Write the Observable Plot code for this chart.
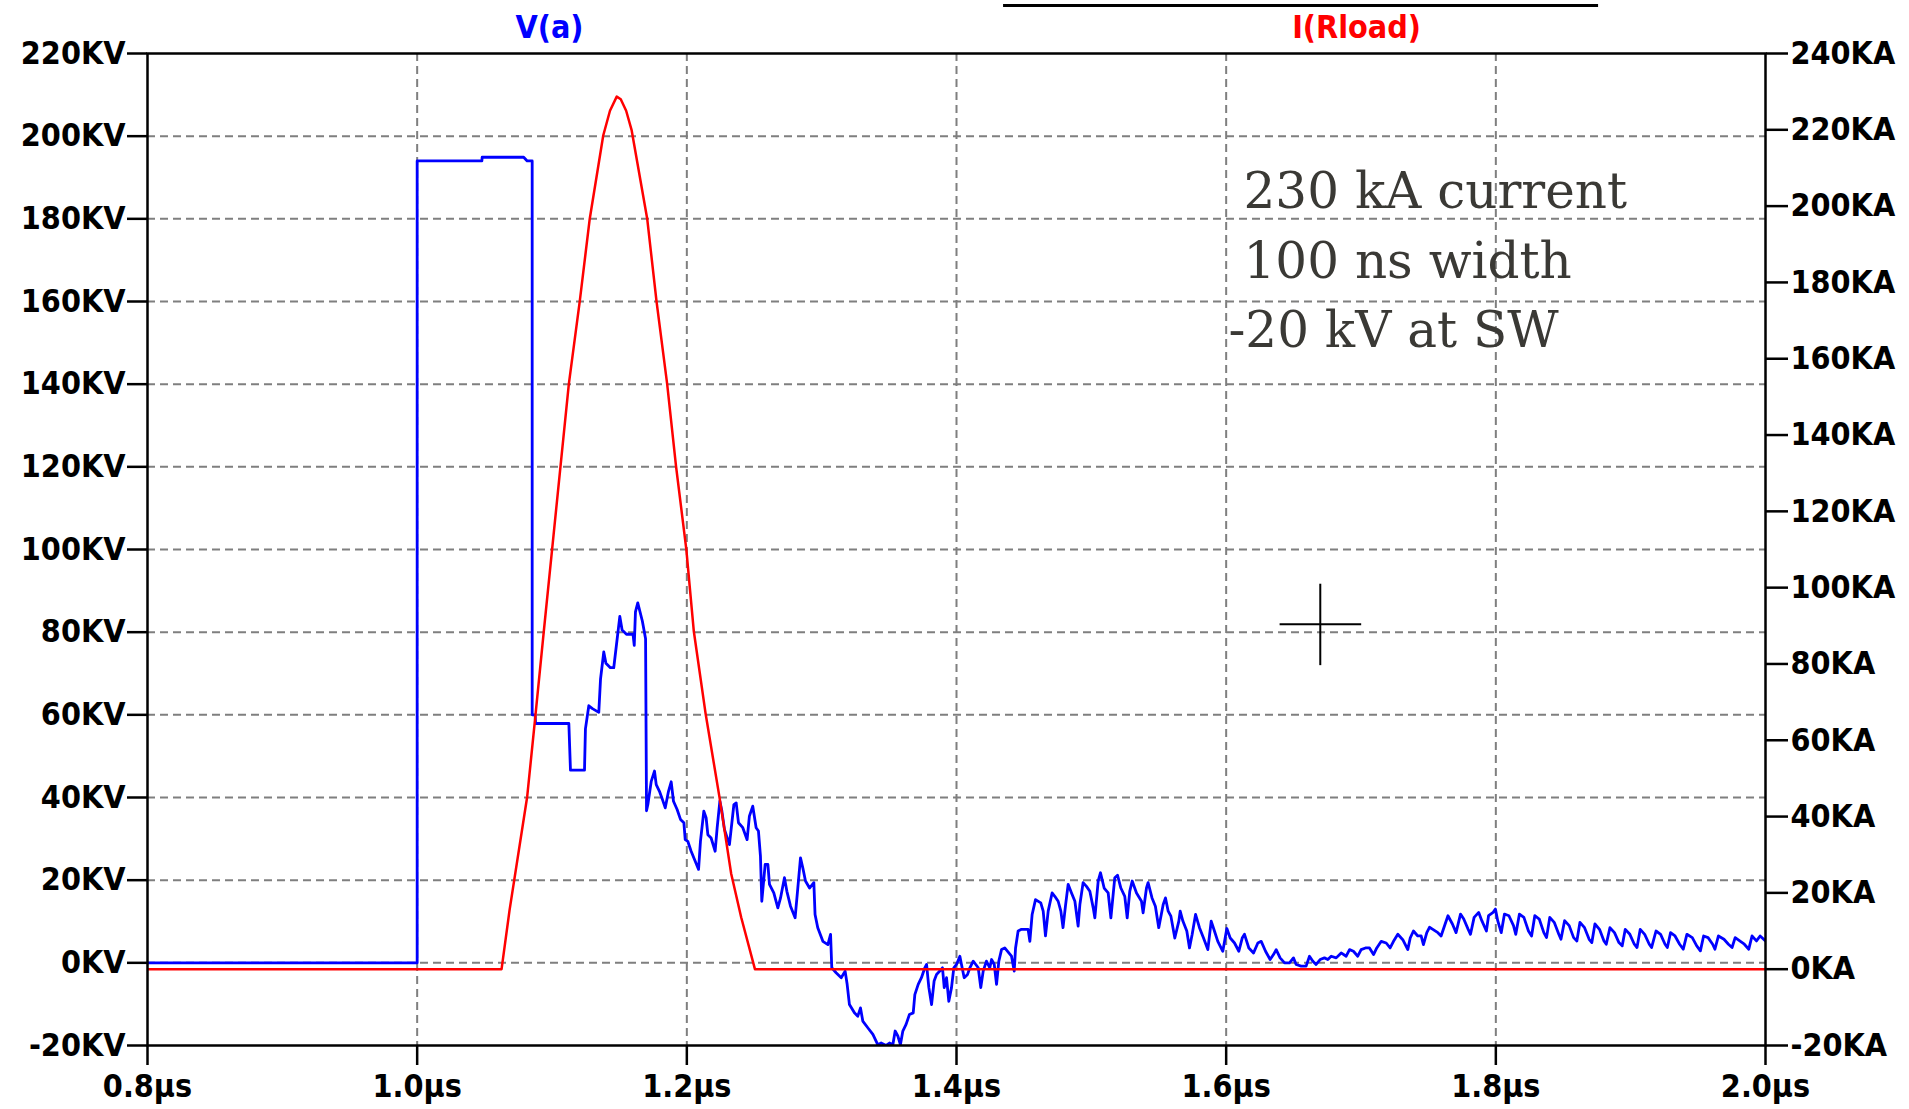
<!DOCTYPE html>
<html>
<head>
<meta charset="utf-8">
<script src="https://cdn.jsdelivr.net/npm/d3@7"></script>
<script src="https://cdn.jsdelivr.net/npm/@observablehq/plot@0.6"></script>
<style>
html, body { margin: 0; padding: 0; background: #fff; overflow: hidden; }
#chart svg { display: block; }
#chart svg g[font-family="DejaVu Serif"], #chart svg g[font-family="DejaVu Serif"] text { font-stretch: normal; font-weight: normal; }
</style>
</head>
<body>
<div id="chart"></div>
<script>
// ---- axes / ticks ----
const timeDomain = [0.8, 2.0];
const timeTicks = [0.8, 1.0, 1.2, 1.4, 1.6, 1.8, 2.0];
const voltDomain = [-20, 220];
const voltTicks = [-20, 0, 20, 40, 60, 80, 100, 120, 140, 160, 180, 200, 220];
const currentDomain = [-20, 240];
const currentTicks = [-20, 0, 20, 40, 60, 80, 100, 120, 140, 160, 180, 200, 220, 240];

// ---- series names ----
const seriesNames = ["V(a)", "I(Rload)"];
const seriesLabelX = [1.0981, 1.6967];
const overlineX = [1.4349, 1.8762];

// ---- V(a) in kV vs time in µs ----
const vaPulse = [
  [0.8, 0], [1.0, 0], [1.0, 194.0], [1.048, 194.0], [1.0482, 194.9], [1.079, 194.9],
  [1.0816, 194.0], [1.0853, 194.0], [1.0853, 60.0], [1.0875, 60.0], [1.0878, 57.9],
  [1.1125, 57.9], [1.1137, 46.6], [1.1241, 46.6], [1.1248, 56.6], [1.1273, 62.2],
  [1.130, 61.5], [1.1347, 60.6], [1.136, 68.7], [1.1384, 75.2], [1.140, 72.5],
  [1.1433, 71.4], [1.1458, 71.4], [1.1503, 83.8], [1.152, 80.5], [1.1552, 79.5],
  [1.1601, 79.5], [1.161, 76.8], [1.1619, 84.9], [1.1636, 87.1], [1.167, 82.7],
  [1.1694, 78.4], [1.1701, 36.8]
];
const vaDecay = [
  [1.1711, 38.3], [1.1736, 43.9], [1.176, 46.4], [1.1773, 43.1], [1.1797, 41.5],
  [1.1815, 39.9], [1.184, 37.5], [1.1864, 41.5], [1.1884, 43.8], [1.1901, 39.1],
  [1.1928, 37.1], [1.1953, 34.7], [1.1978, 33.9], [1.1988, 29.8], [1.2007, 29.4],
  [1.2032, 27.0], [1.2057, 25.0], [1.2087, 22.6], [1.2101, 29.4], [1.2126, 36.7],
  [1.2143, 35.1], [1.2156, 31.0], [1.218, 30.2], [1.221, 27.0], [1.2225, 32.7],
  [1.2245, 39.1], [1.226, 36.7], [1.2279, 32.3], [1.2316, 28.6], [1.2349, 38.3],
  [1.2366, 38.7], [1.2383, 33.9], [1.2415, 32.7], [1.2447, 29.8], [1.2464, 35.5],
  [1.2489, 37.9], [1.2514, 32.7], [1.2531, 31.9], [1.2546, 25.8], [1.2556, 14.9],
  [1.2581, 23.8], [1.2601, 23.8], [1.2613, 19.0], [1.2645, 16.9], [1.2675, 13.3],
  [1.2695, 15.7], [1.2724, 20.6], [1.2742, 17.3], [1.2769, 13.7], [1.2803, 10.9],
  [1.2823, 18.1], [1.2843, 25.4], [1.286, 23.0], [1.288, 19.8], [1.291, 18.1],
  [1.2942, 19.4], [1.2951, 11.7], [1.2971, 8.5], [1.3009, 5.2], [1.3046, 4.4],
  [1.3066, 6.9], [1.3075, -1.2], [1.3107, -2.4], [1.3145, -3.6], [1.3174, -2.0],
  [1.3189, -5.2], [1.3206, -10.1], [1.3243, -12.1], [1.3268, -12.9], [1.3288, -10.9],
  [1.3305, -14.1], [1.3342, -15.7], [1.338, -17.3], [1.3416, -19.8], [1.3441, -19.4],
  [1.3478, -20.0], [1.3503, -19.4], [1.3528, -19.8], [1.3545, -16.5], [1.3565, -17.7],
  [1.3584, -19.8], [1.3602, -16.5], [1.3626, -14.9], [1.3651, -12.5]
];
const vaRingUp = [
  [1.3679, -12.1], [1.3691, -7.7], [1.3716, -5.2], [1.374, -3.6], [1.3765, -1.2],
  [1.3778, -0.4], [1.3795, -6.0], [1.3815, -10.1], [1.3834, -4.4], [1.3852, -2.8],
  [1.3876, -2.0], [1.3896, -1.2], [1.3909, -6.0], [1.3926, -3.6], [1.3943, -9.3],
  [1.3963, -6.0], [1.398, -1.2], [1.4, -0.4], [1.4025, 1.6], [1.4037, -0.4],
  [1.4057, -3.6], [1.4082, -2.8], [1.4099, -1.2], [1.4124, 0.4], [1.4143, -0.4],
  [1.4161, -1.2], [1.418, -6.0], [1.4198, -2.0], [1.4222, 0.4], [1.4247, -1.2],
  [1.426, 0.8], [1.428, -0.4], [1.4297, -5.2], [1.4314, 0.4], [1.4334, 3.2],
  [1.4358, 3.6], [1.4388, 2.4], [1.4408, 1.6], [1.4428, -2.0], [1.4438, 3.6],
  [1.4457, 7.7], [1.4482, 8.1], [1.4531, 8.1], [1.4544, 5.2], [1.4561, 11.7],
  [1.4586, 15.3], [1.4625, 14.5], [1.4643, 12.5], [1.466, 6.5], [1.468, 12.5],
  [1.4709, 16.9], [1.4729, 16.1], [1.4754, 14.9], [1.4774, 12.5], [1.479, 8.5],
  [1.4808, 13.7], [1.4828, 19.0], [1.4853, 16.9], [1.4878, 14.9], [1.4902, 8.9],
  [1.4915, 14.1], [1.4939, 19.4], [1.4964, 18.5], [1.4989, 17.3], [1.5014, 13.3],
  [1.5026, 10.9], [1.5051, 19.8], [1.5068, 21.8], [1.5095, 18.1], [1.5125, 16.9],
  [1.5145, 10.9], [1.5174, 20.6], [1.5194, 21.2], [1.5219, 18.1], [1.5248, 16.1],
  [1.5266, 10.9], [1.5285, 17.3], [1.5303, 19.8], [1.5335, 16.9], [1.5372, 14.9],
  [1.5384, 12.1], [1.5409, 18.1], [1.5421, 19.4], [1.545, 15.7], [1.5475, 13.7],
  [1.55, 8.5], [1.5533, 14.1], [1.555, 15.7], [1.557, 12.5], [1.559, 11.3],
  [1.5619, 6.0], [1.5649, 10.1]
];
const vaRingDown = [
  [1.5659, 12.5], [1.5679, 10.1], [1.5708, 7.7], [1.5728, 3.6], [1.5748, 6.9],
  [1.5773, 11.7], [1.5802, 8.5], [1.5832, 6.0], [1.5864, 3.2], [1.5889, 10.1],
  [1.5913, 7.7], [1.5938, 5.2], [1.5975, 2.8], [1.6005, 8.3], [1.603, 6.0],
  [1.6062, 4.8], [1.6094, 2.8], [1.6119, 6.0], [1.6136, 6.9], [1.6168, 3.6],
  [1.6203, 2.4], [1.6235, 4.8], [1.626, 5.2], [1.6292, 2.8], [1.6326, 0.8],
  [1.6351, 2.0], [1.6371, 3.2], [1.64, 1.2], [1.6433, 0.0], [1.647, 0.0],
  [1.6499, 1.2], [1.6519, -0.4], [1.6556, -0.8], [1.6593, -0.8], [1.6618, 1.6],
  [1.6643, 0.4], [1.6667, -0.4], [1.6697, 0.8], [1.6729, 1.2], [1.6754, 0.8],
  [1.6779, 1.6], [1.6816, 1.2], [1.6853, 2.4], [1.689, 1.6], [1.6915, 3.2],
  [1.6944, 2.8], [1.6976, 1.6], [1.7001, 3.2], [1.7033, 3.6], [1.7063, 3.6],
  [1.7093, 2.0], [1.7117, 3.6], [1.715, 5.2], [1.7187, 4.8], [1.7216, 3.6],
  [1.7241, 5.2], [1.7273, 6.9], [1.731, 5.6], [1.7347, 3.2], [1.7365, 6.0],
  [1.7389, 7.7], [1.7421, 6.5], [1.7446, 6.5], [1.7463, 4.4], [1.7488, 7.3],
  [1.7508, 8.6], [1.7533, 8.1], [1.757, 7.3], [1.7594, 6.5], [1.7619, 8.9]
];
const vaTail = [
  [1.7645, 11.4], [1.7678, 9.4], [1.7705, 7.3], [1.7738, 11.8], [1.7762, 10.6],
  [1.7795, 8.1], [1.7812, 6.9], [1.7839, 11.0], [1.7873, 12.2], [1.7896, 10.2],
  [1.793, 7.7], [1.7946, 11.4], [1.798, 12.2], [1.7997, 13.0], [1.8014, 10.2],
  [1.804, 7.3], [1.8064, 11.8], [1.8097, 11.4], [1.8131, 9.0], [1.8148, 6.9],
  [1.8175, 11.8], [1.8208, 11.0], [1.8242, 7.7], [1.8265, 6.5], [1.8289, 11.4],
  [1.8322, 10.6], [1.8356, 7.3], [1.8376, 6.1], [1.84, 11.0], [1.8433, 9.8],
  [1.8467, 6.9], [1.8483, 5.7], [1.851, 10.2], [1.8544, 9.0], [1.8577, 6.1],
  [1.8601, 5.3], [1.8624, 9.8], [1.8658, 8.5], [1.8692, 5.7], [1.8712, 4.9],
  [1.8735, 9.4], [1.8769, 8.1], [1.8802, 5.3], [1.8819, 4.5], [1.8846, 8.5],
  [1.888, 7.3], [1.8913, 4.9], [1.8937, 4.1], [1.896, 8.1], [1.8994, 6.9],
  [1.9027, 4.5], [1.9047, 3.7], [1.9071, 8.1], [1.9104, 6.9], [1.9138, 4.5],
  [1.9155, 3.7], [1.9188, 7.7], [1.9222, 6.9], [1.9255, 4.5], [1.9272, 3.7],
  [1.9296, 7.3], [1.9329, 6.5], [1.9363, 4.5], [1.939, 3.3], [1.9417, 6.9],
  [1.9457, 6.1], [1.949, 4.1], [1.9517, 2.9], [1.9541, 6.5], [1.9574, 6.1],
  [1.9608, 4.5], [1.9625, 3.3], [1.9651, 6.5], [1.9692, 5.7], [1.9725, 4.5],
  [1.9752, 3.7], [1.9775, 6.1], [1.9809, 5.3], [1.9843, 4.5], [1.9876, 3.3],
  [1.99, 6.5], [1.9933, 5.3], [1.996, 6.5], [2.0, 5.3]
];
const vaPoints = [...vaPulse, ...vaDecay, ...vaRingUp, ...vaRingDown, ...vaTail];

// ---- I(Rload) in kA vs time in µs ----
const iloadPoints = [
  [0.8, 0], [1.0626, 0], [1.0685, 15.4], [1.0816, 45.2], [1.0878, 66.8], [1.0939, 88.5],
  [1.1001, 110.1], [1.1063, 131.8], [1.1125, 153.4], [1.1206, 175.1], [1.128, 196.7],
  [1.138, 218.5], [1.143, 225.0], [1.148, 228.7], [1.151, 228.0], [1.155, 225.0],
  [1.159, 220.0], [1.1706, 196.7], [1.1775, 175.1], [1.1854, 153.4], [1.192, 131.8],
  [1.1996, 110.1], [1.2052, 88.5], [1.214, 66.8], [1.2242, 45.1], [1.2329, 25.0],
  [1.2403, 13.6], [1.2505, 0], [2.0, 0]
];

// ---- annotation ----
const noteLines = ["230 kA current", "100 ns width", "-20 kV at SW"];
const noteX = [1.6129, 1.6129, 1.6017];
const noteY = [182.7, 165.8, 148.9];

// ---- cursor crosshair ----
const cursorX = [1.64, 1.6698, 1.7005];
const cursorY = [71.9, 81.9, 91.6];

// map current (kA) onto the voltage scale
const kaToKv = a => voltDomain[0] + (a - currentDomain[0]) * (voltDomain[1] - voltDomain[0]) / (currentDomain[1] - currentDomain[0]);
const kvToKa = v => currentDomain[0] + (v - voltDomain[0]) * (currentDomain[1] - currentDomain[0]) / (voltDomain[1] - voltDomain[0]);

const labelFont = '"DejaVu Sans Condensed", "DejaVu Sans", sans-serif';
const gridStyle = {stroke: "#7f7f7f", strokeOpacity: 1, strokeWidth: 2, strokeDasharray: "8,5"};

const chart = Plot.plot({
  width: 1909,
  height: 1109,
  marginLeft: 147,
  marginRight: 144,
  marginTop: 53,
  marginBottom: 64,
  x: {domain: timeDomain},
  y: {domain: voltDomain},
  style: {fontFamily: labelFont, fontSize: "32px", fontWeight: "bold", fontStretch: "condensed", background: "white", color: "black"},
  marks: [
    Plot.gridY(voltTicks.slice(1, -1), gridStyle),
    Plot.gridX(timeTicks.slice(1, -1), gridStyle),
    Plot.line(vaPoints, {x: d => d[0], y: d => d[1], stroke: "#0000ff", strokeWidth: 2.8, clip: true}),
    Plot.line(iloadPoints, {x: d => d[0], y: d => kaToKv(d[1]), stroke: "#ff0000", strokeWidth: 2.5, clip: true}),
    Plot.frame({stroke: "black", strokeWidth: 2.5}),
    Plot.axisY(voltTicks, {anchor: "left", label: null, tickSize: 20, tickPadding: 2, strokeWidth: 2.5, color: "black", tickFormat: d => `${d}KV`}),
    Plot.axisY(currentTicks.map(kaToKv), {anchor: "right", label: null, tickSize: 22, tickPadding: 3, strokeWidth: 2.5, color: "black", tickFormat: d => `${Math.round(kvToKa(d))}KA`}),
    Plot.axisX(timeTicks, {anchor: "bottom", label: null, tickSize: 20, tickPadding: 9, strokeWidth: 2.5, color: "black", tickFormat: d => `${d.toFixed(1)}µs`}),
    Plot.text([seriesNames[0]], {x: [seriesLabelX[0]], text: d => d, frameAnchor: "top", lineAnchor: "bottom", dy: -16, fill: "#0000ff", fontSize: 32, fontWeight: "bold"}),
    Plot.text([seriesNames[1]], {x: [seriesLabelX[1]], text: d => d, frameAnchor: "top", lineAnchor: "bottom", dy: -16, fill: "#ff0000", fontSize: 32, fontWeight: "bold"}),
    Plot.ruleY([voltDomain[1]], {x1: overlineX[0], x2: overlineX[1], dy: -48, stroke: "black", strokeWidth: 3}),
    Plot.text(noteLines, {x: noteX, y: noteY, text: d => d, textAnchor: "start", lineAnchor: "bottom", fontFamily: "DejaVu Serif", fontSize: 50, fontWeight: "normal", fill: "#3a3935"}),
    Plot.ruleY([cursorY[1]], {x1: cursorX[0], x2: cursorX[2], stroke: "black", strokeWidth: 2}),
    Plot.ruleX([cursorX[1]], {y1: cursorY[0], y2: cursorY[2], stroke: "black", strokeWidth: 2})
  ]
});
document.getElementById("chart").appendChild(chart);
</script>
</body>
</html>
